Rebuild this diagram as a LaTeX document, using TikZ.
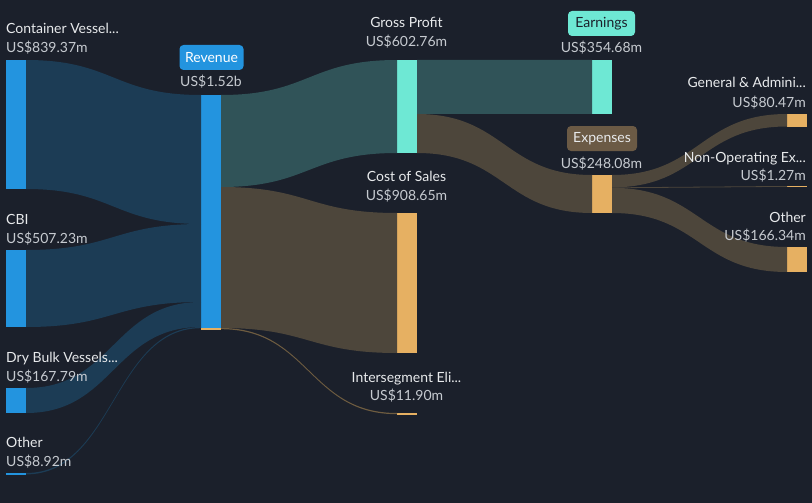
\documentclass[tikz,border=0pt]{standalone}
\usepackage{fontspec}
\setmainfont{Lato}
\usetikzlibrary{calc}
\definecolor{bg}{HTML}{1B202B}
\definecolor{nblue}{HTML}{2394DF}
\definecolor{nteal}{HTML}{6EE8D4}
\definecolor{norange}{HTML}{E6B062}
\definecolor{fblue}{HTML}{1C3C55}
\definecolor{fteal}{HTML}{305358}
\definecolor{fbrown}{HTML}{4D463B}
\definecolor{fbrownl}{HTML}{6E5C40}
\definecolor{boxbrown}{HTML}{6B5A45}
\definecolor{tname}{HTML}{E8EAEC}
\definecolor{tval}{HTML}{C6CAD0}
\newcommand{\sflow}[7]{%
  \fill[#7] let \p1=(#1.north east), \p2=(#4.north west), \n1={0.5*(\x1+\x2)} in
  (\x1,\y1-#2pt) .. controls (\n1,\y1-#2pt) and (\n1,\y2-#5pt) .. (\x2,\y2-#5pt)
  -- (\x2,\y2-#5pt-#6pt) .. controls (\n1,\y2-#5pt-#6pt) and (\n1,\y1-#2pt-#3pt) .. (\x1,\y1-#2pt-#3pt) -- cycle;}
\tikzset{
  bar/.style={inner sep=0pt, outer sep=0pt, minimum width=20pt, anchor=north west},
  lname/.style={inner sep=0pt, text=tname, font=\fontsize{14}{16}\selectfont},
  lval/.style={inner sep=0pt, text=tval, font=\fontsize{14}{16}\selectfont},
  tagbox/.style={rounded corners=4pt, inner sep=0pt, minimum height=25pt, font=\fontsize{14}{16}\selectfont},
}
\begin{document}
\begin{tikzpicture}[x=1pt,y=-1pt]
\fill[bg] (0,0) rectangle (812,503);
\useasboundingbox (0,0) rectangle (812,503);
% bars
\node[bar, fill=nblue, minimum height=129pt] (cv) at (6,60) {};
\node[bar, fill=nblue, minimum height=77pt] (cbi) at (6,250) {};
\node[bar, fill=nblue, minimum height=25pt] (dry) at (6,388) {};
\node[bar, fill=nblue, minimum height=1.6pt] (othl) at (6,473) {};
\node[bar, fill=nblue, minimum height=233pt] (rev) at (201,95) {};
\node[bar, fill=norange, minimum height=1.8pt] (revseg) at (201,328) {};
\node[bar, fill=nteal, minimum height=93pt] (gp) at (397,60) {};
\node[bar, fill=norange, minimum height=140pt] (cos) at (397,213) {};
\node[bar, fill=norange, minimum height=1.8pt] (inter) at (397,413) {};
\node[bar, fill=nteal, minimum height=54pt] (earn) at (592,60) {};
\node[bar, fill=norange, minimum height=38pt] (exp) at (592,175) {};
\node[bar, fill=norange, minimum height=12.5pt] (ga) at (787,114) {};
\node[bar, fill=norange, minimum height=1pt] (nonop) at (787,186) {};
\node[bar, fill=norange, minimum height=25pt] (othr) at (787,247) {};
% flows
\sflow{cv}{0}{129}{rev}{0}{129}{fblue}
\sflow{cbi}{0}{77}{rev}{129}{78}{fblue}
\sflow{dry}{0}{25}{rev}{207}{25}{fblue}
\sflow{othl}{0}{1.4}{rev}{232}{1.2}{fblue}
\sflow{rev}{0}{92}{gp}{0}{93}{fteal}
\sflow{rev}{92}{141}{cos}{0}{140}{fbrown}
\sflow{revseg}{0}{1.2}{inter}{0}{1.2}{fbrownl}
\sflow{gp}{0}{54}{earn}{0}{54}{fteal}
\sflow{gp}{54}{39}{exp}{0}{38}{fbrown}
\sflow{exp}{0}{12.4}{ga}{0}{12.5}{fbrown}
\sflow{exp}{12.4}{0.8}{nonop}{0}{0.8}{fbrown}
\sflow{exp}{12.8}{25.2}{othr}{0}{25}{fbrown}
% left labels
\node[lname, anchor=base west] (cvN) at (6,34) {Container Vessel...};
\node[lval, anchor=base west] (cvV) at (6,53) {US\$839.37m};
\node[lname, anchor=base west] (cbiN) at (6,224) {CBI};
\node[lval, anchor=base west] (cbiV) at (6,243) {US\$507.23m};
\node[lname, anchor=base west] (dryN) at (6,362) {Dry Bulk Vessels...};
\node[lval, anchor=base west] (dryV) at (6,381) {US\$167.79m};
\node[lname, anchor=base west] (othlN) at (6,447) {Other};
\node[lval, anchor=base west] (othlV) at (6,466) {US\$8.92m};
% revenue
\node[tagbox, fill=nblue, text=white, minimum width=64pt] (revT) at (211.5,57.5) {Revenue};
\node[lval, anchor=base] (revV) at (211,87) {US\$1.52b};
% middle
\node[lname, anchor=base] (gpN) at (406.5,28) {Gross Profit};
\node[lval, anchor=base] (gpV) at (406.5,47) {US\$602.76m};
\node[lname, anchor=base] (cosN) at (406.5,181) {Cost of Sales};
\node[lval, anchor=base] (cosV) at (406.5,200) {US\$908.65m};
\node[lname, anchor=base] (interN) at (406.5,382) {Intersegment Eli...};
\node[lval, anchor=base] (interV) at (406.5,400) {US\$11.90m};
% earnings / expenses
\node[tagbox, fill=nteal, text=bg, minimum width=67pt] (earnT) at (601.5,23.5) {Earnings};
\node[lval, anchor=base] (earnV) at (601.5,53) {US\$354.68m};
\node[tagbox, fill=boxbrown, text=tname, minimum width=70pt] (expT) at (602,138.5) {Expenses};
\node[lval, anchor=base] (expV) at (601.5,168) {US\$248.08m};
% right labels
\node[lname, anchor=base east] (gaN) at (806,88) {General \& Admini...};
\node[lval, anchor=base east] (gaV) at (806,107) {US\$80.47m};
\node[lname, anchor=base east] (nonopN) at (806,162) {Non-Operating Ex...};
\node[lval, anchor=base east] (nonopV) at (806,180) {US\$1.27m};
\node[lname, anchor=base east] (othrN) at (806,222) {Other};
\node[lval, anchor=base east] (othrV) at (806,240) {US\$166.34m};
\end{tikzpicture}
\end{document}
